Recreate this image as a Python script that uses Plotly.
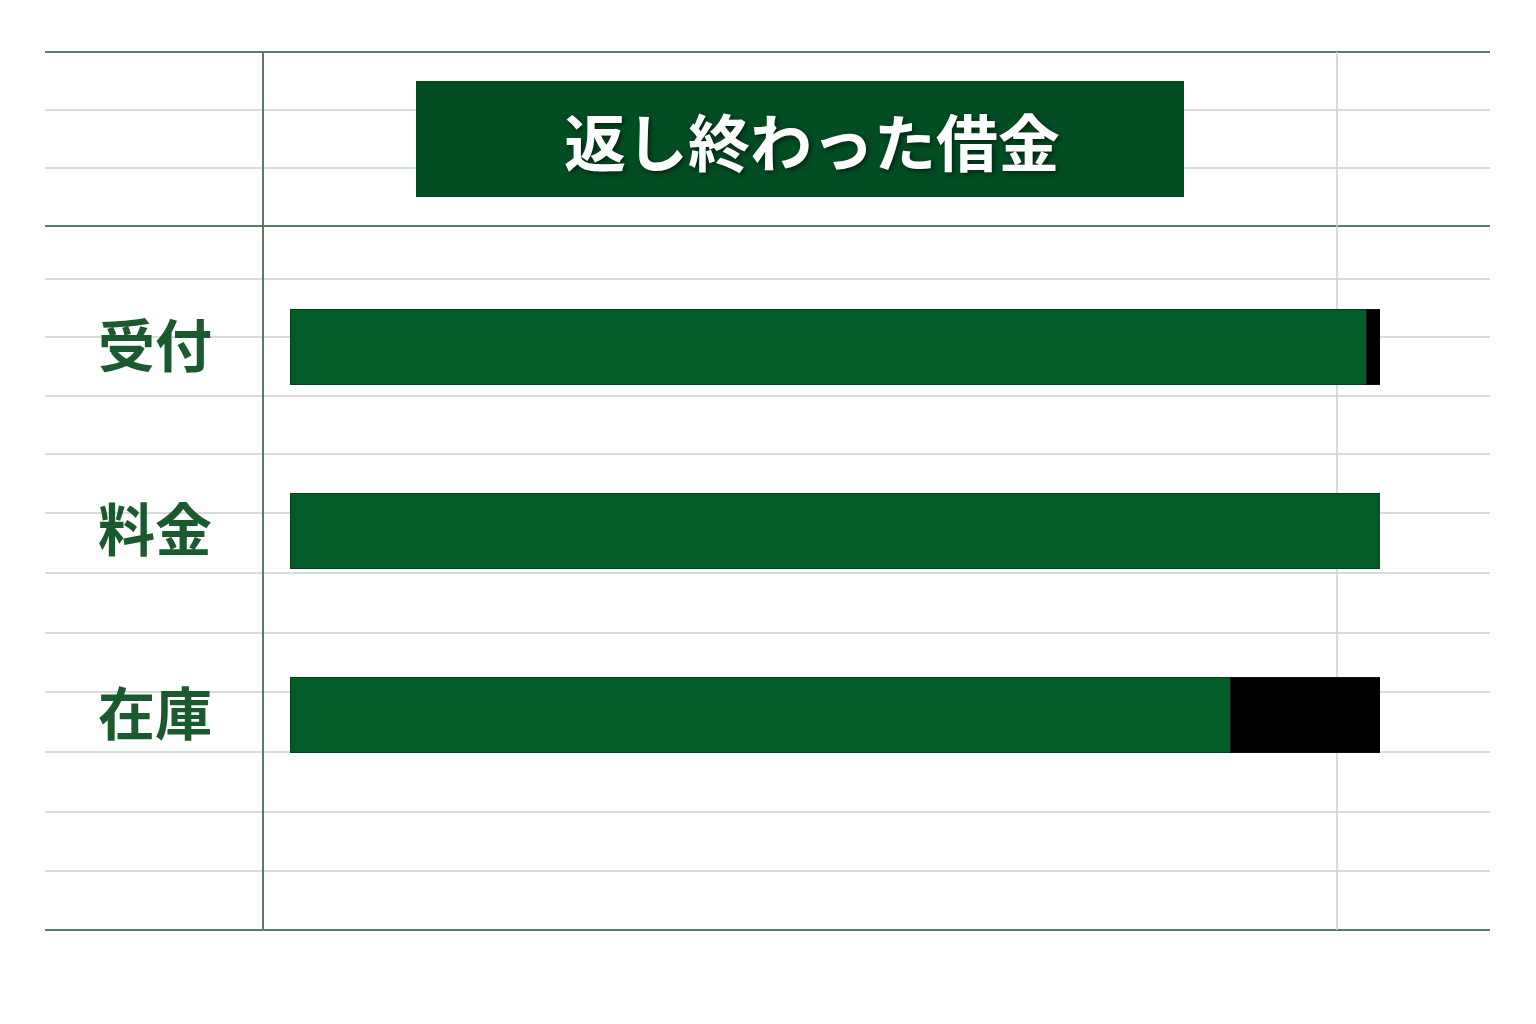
import plotly.graph_objects as go

# data
categories = ["受付", "料金", "在庫"]
repaid = [98.8, 100.0, 86.3]
remaining = [1.2, 0.0, 13.7]
title_text = "返し終わった借金"

OFF = 8                    # page body margin
W, H = 1536 - 2 * OFF, 1024 - 2 * OFF
L, R = 290 - OFF, 1380 - OFF   # plot area (pixels) for x 0..100
TOP, BOT = 52 - OFF, 930 - OFF  # notebook area

def px(x):
    return (x - OFF - L) / (R - L)

def py(y):
    return 1 - (y - OFF - TOP) / (BOT - TOP)

fig = go.Figure()
fig.add_trace(go.Bar(y=categories, x=repaid, orientation="h", name="返済",
                     marker=dict(color="#035b27", line=dict(color="#0b3d1c", width=1)),
                     width=0.41, hoverinfo="x+y"))
fig.add_trace(go.Bar(y=categories, x=remaining, orientation="h", name="残り",
                     marker=dict(color="#000000", line=dict(color="#111111", width=1)),
                     width=0.41, hoverinfo="x+y"))

shapes = []
dark = "#5b7b63"
light = "#c9d0cd"
rows = [52, 110, 168, 226, 279, 337, 396, 454, 513, 573, 633, 692, 752, 812, 871, 930]
for yy in rows:
    is_dark = yy in (52, 226, 930)
    shapes.append(dict(type="line", xref="paper", yref="paper", layer="below",
                       x0=px(45), x1=px(1490), y0=py(yy), y1=py(yy),
                       line=dict(color=dark if is_dark else light, width=2 if is_dark else 1.3)))
shapes.append(dict(type="line", xref="paper", yref="paper", layer="below",
                   x0=px(263), x1=px(263), y0=py(52), y1=py(930),
                   line=dict(color=dark, width=2)))
shapes.append(dict(type="line", xref="paper", yref="paper", layer="below",
                   x0=px(1337), x1=px(1337), y0=py(52), y1=py(930),
                   line=dict(color=light, width=1.5)))
# title box
shapes.append(dict(type="rect", xref="paper", yref="paper", layer="above",
                   x0=px(416), x1=px(1184), y0=py(197), y1=py(81),
                   fillcolor="#024d22", line=dict(width=0)))

unit = 184.0
cat0 = 347 - OFF
yr_top = -(cat0 - TOP) / unit
yr_bot = (BOT - cat0) / unit

fig.update_layout(
    width=W, height=H,
    barmode="stack",
    showlegend=False,
    paper_bgcolor="#ffffff",
    plot_bgcolor="rgba(0,0,0,0)",
    margin=dict(l=L, r=W - R, t=TOP, b=H - BOT, pad=0),
    font=dict(family="Noto Sans CJK JP"),
    shapes=shapes,
    xaxis=dict(range=[0, 100], visible=False, fixedrange=True),
    yaxis=dict(range=[yr_bot, yr_top], showgrid=False, zeroline=False, showline=False,
               ticks="", ticklabelstandoff=77, fixedrange=True,
               tickfont=dict(family="Noto Sans CJK JP", size=57, color="#1b5a2e", weight="bold")),
    annotations=[dict(text=title_text, xref="paper", yref="paper",
                      x=px(812), y=py(140), xanchor="center", yanchor="middle",
                      showarrow=False,
                      font=dict(family="Noto Sans CJK JP", size=62, color="#ffffff",
                                weight="bold", shadow="2px 2px 5px rgba(0,0,0,0.55)"))],
)

fig.write_html("out.html")
